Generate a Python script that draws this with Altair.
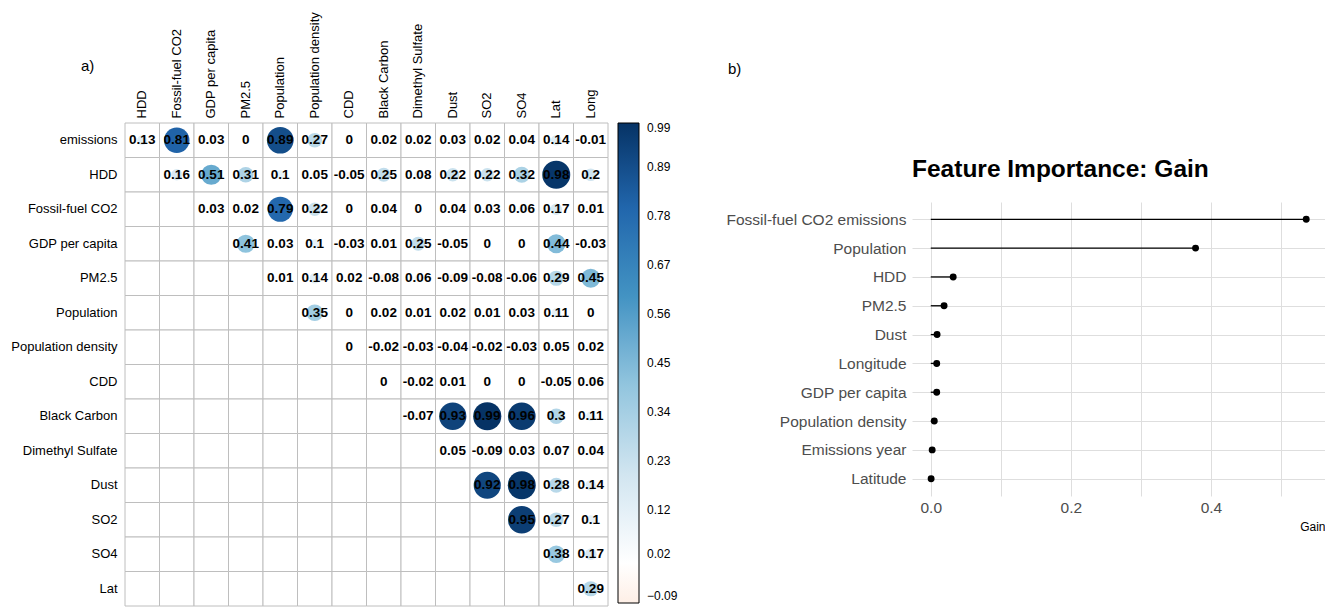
import altair as alt
import pandas as pd

FONT = "Liberation Sans Narrow, Arial Narrow, Liberation Sans, Arial, sans-serif"

# ---------------- data: correlation matrix (upper triangle) ----------------
cols = ["HDD", "Fossil-fuel CO2", "GDP per capita", "PM2.5", "Population",
        "Population density", "CDD", "Black Carbon", "Dimethyl Sulfate",
        "Dust", "SO2", "SO4", "Lat", "Long"]
rows = ["emissions", "HDD", "Fossil-fuel CO2", "GDP per capita", "PM2.5",
        "Population", "Population density", "CDD", "Black Carbon",
        "Dimethyl Sulfate", "Dust", "SO2", "SO4", "Lat"]

r_emissions = [0.13, 0.81, 0.03, 0, 0.89, 0.27, 0, 0.02, 0.02, 0.03, 0.02, 0.04, 0.14, -0.01]
r_hdd = [0.16, 0.51, 0.31, 0.1, 0.05, -0.05, 0.25, 0.08, 0.22, 0.22, 0.32, 0.98, 0.2]
r_fossil = [0.03, 0.02, 0.79, 0.22, 0, 0.04, 0, 0.04, 0.03, 0.06, 0.17, 0.01]
r_gdp = [0.41, 0.03, 0.1, -0.03, 0.01, 0.25, -0.05, 0, 0, 0.44, -0.03]
r_pm25 = [0.01, 0.14, 0.02, -0.08, 0.06, -0.09, -0.08, -0.06, 0.29, 0.45]
r_pop = [0.35, 0, 0.02, 0.01, 0.02, 0.01, 0.03, 0.11, 0]
r_popdens = [0, -0.02, -0.03, -0.04, -0.02, -0.03, 0.05, 0.02]
r_cdd = [0, -0.02, 0.01, 0, 0, -0.05, 0.06]
r_bc = [-0.07, 0.93, 0.99, 0.96, 0.3, 0.11]
r_dms = [0.05, -0.09, 0.03, 0.07, 0.04]
r_dust = [0.92, 0.98, 0.28, 0.14]
r_so2 = [0.95, 0.27, 0.1]
r_so4 = [0.38, 0.17]
r_lat = [0.29]
corr_rows = [r_emissions, r_hdd, r_fossil, r_gdp, r_pm25, r_pop, r_popdens,
             r_cdd, r_bc, r_dms, r_dust, r_so2, r_so4, r_lat]

legend_ticks = [-0.09, 0.02, 0.12, 0.23, 0.34, 0.45, 0.56, 0.67, 0.78, 0.89, 0.99]
color_stops = [-0.09, 0, 0.2, 0.4, 0.6, 0.8, 0.99]
color_range = ["#feefe6", "#ffffff", "#d1e5f0", "#92c5de", "#4393c3", "#2166ac", "#063365"]

# ---------------- data: feature importance ----------------
features = ["Fossil-fuel CO2 emissions", "Population", "HDD", "PM2.5", "Dust",
            "Longitude", "GDP per capita", "Population density",
            "Emissions year", "Latitude"]
gains = [0.536, 0.378, 0.032, 0.019, 0.009, 0.0085, 0.0085, 0.005, 0.002, 0.0005]

# ---------------- build tables ----------------
grid_df = pd.DataFrame([{"row": r, "col": c} for r in rows for c in cols])
recs = []
for i, vals in enumerate(corr_rows):
    for k, v in enumerate(vals):
        recs.append({"row": rows[i], "col": cols[i + k], "value": v,
                     "absval": abs(v), "label": f"{v:g}"})
corr_df = pd.DataFrame(recs)
gain_df = pd.DataFrame({"feature": features, "gain": gains})

x_enc = alt.X("col:N", sort=cols, scale=alt.Scale(padding=0),
              axis=alt.Axis(orient="top", title=None, labelAngle=270,
                            labelAlign="left", labelBaseline="middle",
                            labelPadding=5, ticks=False, domain=False,
                            labelFont=FONT, labelFontSize=13,
                            labelColor="black", minExtent=115, maxExtent=115))
y_enc = alt.Y("row:N", sort=rows, scale=alt.Scale(padding=0),
              axis=alt.Axis(title=None, labelPadding=8, ticks=False,
                            domain=False, labelFont=FONT, labelFontSize=13,
                            labelColor="black", minExtent=117, maxExtent=117))

cells = alt.Chart(grid_df).mark_rect(fill="white", stroke="#bebebe",
                                     strokeWidth=1).encode(x=x_enc, y=y_enc)

circles = alt.Chart(corr_df).mark_circle(opacity=1).encode(
    x=alt.X("col:N", sort=cols),
    y=alt.Y("row:N", sort=rows),
    size=alt.Size("absval:Q", scale=alt.Scale(domain=[0, 1], range=[0, 800]),
                  legend=None),
    color=alt.Color("value:Q",
                    scale=alt.Scale(domain=color_stops, range=color_range,
                                    interpolate="rgb"),
                    legend=alt.Legend(title=None, orient="right", offset=10,
                                      direction="vertical",
                                      gradientLength=480, gradientThickness=21,
                                      gradientStrokeColor="black",
                                      gradientStrokeWidth=1,
                                      values=legend_ticks, format=".2f",
                                      labelFont=FONT, labelFontSize=12,
                                      labelColor="black", labelOffset=8)),
)

numbers = alt.Chart(corr_df).mark_text(font=FONT, fontSize=13.5,
                                       fontWeight="bold", color="black").encode(
    x=alt.X("col:N", sort=cols),
    y=alt.Y("row:N", sort=rows),
    text="label:N",
)

tag_a = alt.Chart(pd.DataFrame({"t": ["a)"]})).mark_text(
    font=FONT, fontSize=15, align="left", baseline="middle", color="black"
).encode(text="t:N", x=alt.value(-44), y=alt.value(-57))

left = alt.layer(cells, circles, numbers, tag_a).properties(width=483, height=483)

# ---------------- right panel ----------------
tag_b = alt.Chart(pd.DataFrame({"t": ["b)"]})).mark_text(
    font=FONT, fontSize=15, align="left", baseline="middle", color="black"
).encode(text="t:N", x=alt.value(-184), y=alt.value(-54)).properties(
    width=413, height=33)

xg = alt.X("gain:Q", scale=alt.Scale(domain=[-0.0268, 0.5628], nice=False, zero=False),
           axis=alt.Axis(values=[0, 0.1, 0.2, 0.3, 0.4, 0.5],
                         labelExpr="round(datum.value*10) % 2 == 0 ? format(datum.value, '.1f') : ''",
                         grid=True, gridColor="#dedede", ticks=False, domain=False,
                         labelFont=FONT, labelFontSize=15.5, labelColor="#4d4d4d",
                         labelPadding=4, title="Gain", titleAnchor="end",
                         titleFont=FONT, titleFontSize=12,
                         titleFontWeight="normal", titleColor="black",
                         titlePadding=6))
yg = alt.Y("feature:N", sort=features, scale=alt.Scale(type="point", padding=0.6),
           axis=alt.Axis(title=None, grid=True, gridColor="#dedede", ticks=False,
                         domain=False, labelFont=FONT, labelFontSize=15.5,
                         labelColor="#4d4d4d", labelPadding=6, labelLimit=300))

stems = alt.Chart(gain_df).transform_calculate(zero="0").mark_rule(
    color="black", strokeWidth=1.3).encode(x=xg, x2="zero:Q", y=yg)
dots = alt.Chart(gain_df).mark_circle(size=48, color="black", opacity=1).encode(
    x="gain:Q", y=alt.Y("feature:N", sort=features))

right = alt.layer(stems, dots).properties(
    width=413, height=294,
    title=alt.TitleParams("Feature Importance: Gain", anchor="start",
                          frame="group", font=FONT, fontSize=24.5,
                          fontWeight="bold", color="black", offset=20))

right_col = alt.vconcat(tag_b, right, spacing=0)

chart = alt.hconcat(left, right_col, spacing=47).properties(
    padding={"left": 0, "top": 0, "right": 0, "bottom": 0}
).configure_view(stroke=None).resolve_scale(color="independent")

chart.save("out.html", embed_options={"renderer": "svg", "actions": False})
